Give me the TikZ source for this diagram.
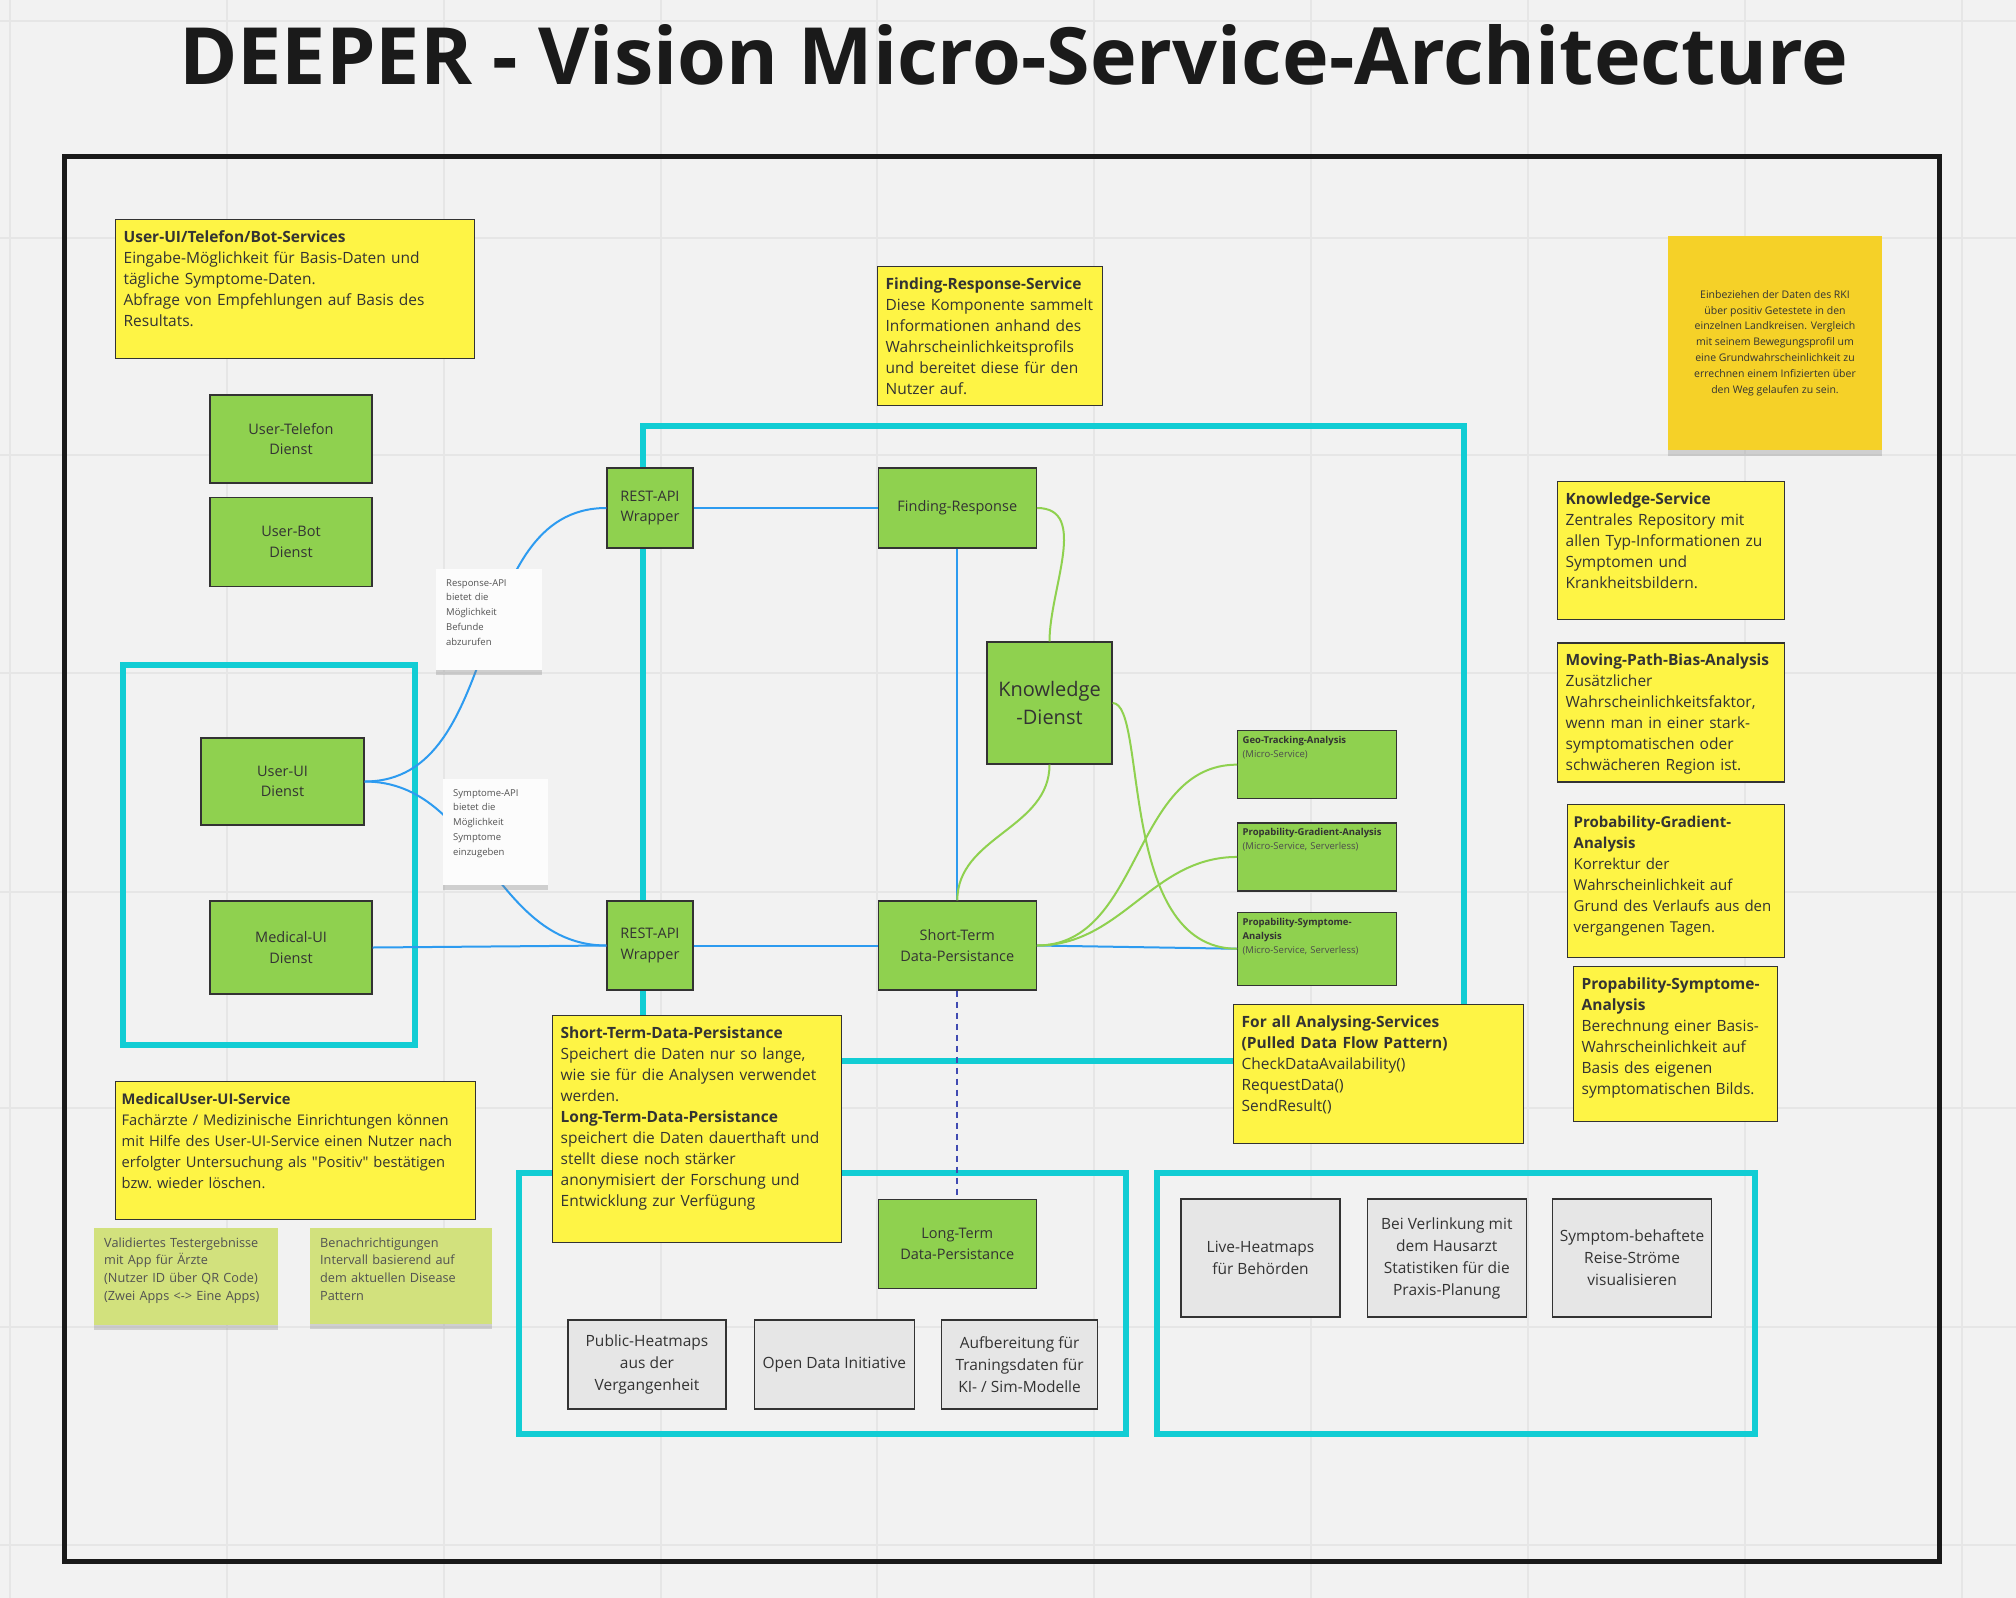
\documentclass[tikz,border=0pt]{standalone}
\usepackage{fontspec}
\setmainfont{Open Sans}
\usepackage{xcolor}
\usepackage{tikz}
\usetikzlibrary{positioning, shadows}
\definecolor{boardGray}{HTML}{F2F2F2}
\definecolor{gridGray}{HTML}{E6E6E6}
\definecolor{frameBlack}{HTML}{1A1A1A}
\definecolor{frameCyan}{HTML}{12CDD4}
\definecolor{infoYellow}{HTML}{FEF445}
\definecolor{dienstGreen}{HTML}{8FD14F}
\definecolor{outputGray}{HTML}{E6E6E6}
\definecolor{stickyOrange}{HTML}{F5D128}
\definecolor{stickyLime}{HTML}{D2E17D}
\definecolor{noteWhite}{HTML}{FCFCFC}
\definecolor{linkBlue}{HTML}{2D9BF0}
\definecolor{linkNavy}{HTML}{414BB2}
\definecolor{inkDark}{HTML}{333333}
\newcommand{\fsz}[2]{\fontsize{#1}{#2}\selectfont}

\begin{document}
\begin{tikzpicture}[
    x=1pt, y=-1pt,
    node distance=20pt,
    dienst/.style={draw=inkDark, line width=1.3pt, fill=dienstGreen, align=center, text=inkDark, font=\fsz{14.5}{20.5}, inner sep=0pt},
    ausgabe/.style={draw=inkDark, line width=1.3pt, fill=outputGray, align=center, text=inkDark, font=\fsz{15.5}{22}, inner sep=0pt},
    info/.style 2 args={draw=inkDark, line width=1.3pt, fill=infoYellow, anchor=north west, align=left, text=inkDark, font=\fsz{15.5}{21}, inner xsep=8pt, inner ysep=8pt, text height=14.5pt, text width=#1, text depth=#2},
    analyse/.style={draw=inkDark, line width=1.3pt, fill=dienstGreen, anchor=north west, align=left, text=inkDark, font=\fsz{9.5}{14}, inner xsep=5pt, inner ysep=4pt, text height=9pt, text width=149pt, text depth=#1},
    notiz/.style 2 args={fill=noteWhite, anchor=north west, align=left, text=inkDark!85, font=\fsz{9.5}{14.7}, inner xsep=10pt, inner ysep=8pt, text height=9pt, text width=#1, text depth=#2, drop shadow={shadow xshift=0pt, shadow yshift=-5pt, opacity=.3}},
    rahmen/.style={draw=frameCyan, line width=6pt},
    bluelink/.style={draw=linkBlue, line width=2pt},
    greenlink/.style={draw=dienstGreen, line width=2pt},
]
    \useasboundingbox (0,0) rectangle (2016,1598);
    \fill[boardGray] (0,0) rectangle (2016,1598);
    \foreach \gy in {21,238,455,673,892,1108,1327,1545}
        \draw[gridGray, line width=1.5pt] (0,\gy) -- (2016,\gy);
    \foreach \gx in {10,227,444,661,877,1094,1311,1528,1745,1962}
        \draw[gridGray, line width=1.5pt] (\gx,0) -- (\gx,1598);

    \node[font=\fsz{79}{92}\bfseries, text=frameBlack, anchor=base] (titel) at (1014,84) {DEEPER - Vision Micro-Service-Architecture};

    \draw[frameBlack, line width=5pt] (64,156) rectangle (1939,1561);
    \draw[rahmen] (123,665) rectangle (415,1045);
    \draw[rahmen] (643,426) rectangle (1464,1061);
    \draw[rahmen] (519,1173) rectangle (1126,1434);
    \draw[rahmen] (1157,1173) rectangle (1755,1434);

    \node[info={343pt}{108.5pt}] (userinfo) at (115,219) {\textbf{User-UI/Telefon/Bot-Services}\\Eingabe-Möglichkeit für Basis-Daten und\\tägliche Symptome-Daten.\\Abfrage von Empfehlungen auf Basis des\\Resultats.};
    \node[info={209pt}{108.5pt}] (findinginfo) at (877,266) {\textbf{Finding-Response-Service}\\Diese Komponente sammelt\\Informationen anhand des\\Wahrscheinlichkeitsprofils\\und bereitet diese für den\\Nutzer auf.};
    \node[info={211pt}{107.5pt}] (knowinfo) at (1557,481) {\textbf{Knowledge-Service}\\Zentrales Repository mit\\allen Typ-Informationen zu\\Symptomen und\\Krankheitsbildern.};
    \node[info={211pt}{108.5pt}, below=22pt of knowinfo] (movinginfo) {\textbf{Moving-Path-Bias-Analysis}\\Zusätzlicher\\Wahrscheinlichkeitsfaktor,\\wenn man in einer stark-\\symptomatischen oder\\schwächeren Region ist.};
    \node[info={205pt}{122.5pt}, inner xsep=6pt, font=\fsz{15}{21}] (gradinfo) at (1567,804) {\textbf{Probability-Gradient-}\\\textbf{Analysis}\\Korrektur der\\Wahrscheinlichkeit auf\\Grund des Verlaufs aus den\\vergangenen Tagen.};
    \node[info={188pt}{124.5pt}] (sympinfo) at (1573,966) {\textbf{Propability-Symptome-}\\\textbf{Analysis}\\Berechnung einer Basis-\\Wahrscheinlichkeit auf\\Basis des eigenen\\symptomatischen Bilds.};
    \node[info={273pt}{196.5pt}] (persistinfo) at (552,1015) {\textbf{Short-Term-Data-Persistance}\\Speichert die Daten nur so lange,\\wie sie für die Analysen verwendet\\werden.\\\textbf{Long-Term-Data-Persistance}\\speichert die Daten dauerthaft und\\stellt diese noch stärker\\anonymisiert der Forschung und\\Entwicklung zur Verfügung};
    \node[info={274pt}{108.5pt}] (analyseinfo) at (1233,1004) {\textbf{For all Analysing-Services}\\\textbf{(Pulled Data Flow Pattern)}\\CheckDataAvailability()\\RequestData()\\SendResult()};
    \node[info={348pt}{107.5pt}, inner xsep=6pt, font=\fsz{14.7}{21}] (medicalinfo) at (115,1081) {\textbf{MedicalUser-UI-Service}\\Fachärzte / Medizinische Einrichtungen können\\mit Hilfe des User-UI-Service einen Nutzer nach\\erfolgter Untersuchung als \textquotedbl Positiv\textquotedbl{} bestätigen\\bzw.\ wieder löschen.};

    \node[dienst, minimum width=162pt, minimum height=88pt] (tel) at (291,439) {User-Telefon\\Dienst};
    \node[dienst, minimum width=162pt, minimum height=89pt, below=13pt of tel] (bot) {User-Bot\\Dienst};
    \node[dienst, minimum width=163pt, minimum height=87pt] (ui) at (282.5,781.5) {User-UI\\Dienst};
    \node[dienst, minimum width=162pt, minimum height=93pt] (medui) at (291,947.5) {Medical-UI\\Dienst};
    \node[dienst, minimum width=86pt, minimum height=80pt] (restA) at (650,508) {REST-API\\Wrapper};
    \node[dienst, minimum width=158pt, minimum height=80pt, right=184pt of restA] (finding) {Finding-Response};
    \node[dienst, minimum width=125pt, minimum height=122pt, font=\fsz{20}{28}] (know) at (1049.5,703) {Knowledge\\-Dienst};
    \node[dienst, minimum width=86pt, minimum height=89pt] (restB) at (650,945.5) {REST-API\\Wrapper};
    \node[dienst, minimum width=158pt, minimum height=89pt, right=184pt of restB] (short) {Short-Term\\Data-Persistance};
    \node[dienst, minimum width=158pt, minimum height=89pt, below=208pt of short] (long) {Long-Term\\Data-Persistance};

    \node[analyse=51pt] (geo) at (1237,730) {\textbf{Geo-Tracking-Analysis}\\{\color{black!70}(Micro-Service)}};
    \node[analyse=51pt, below=23pt of geo] (grad) {\textbf{Propability-Gradient-Analysis}\\{\color{black!70}(Micro-Service, Serverless)}};
    \node[analyse=56pt, below=20pt of grad] (symp) {\textbf{Propability-Symptome-}\\\textbf{Analysis}\\{\color{black!70}(Micro-Service, Serverless)}};

    \node[ausgabe, minimum width=158pt, minimum height=89pt] (pubheat) at (647,1364.5) {Public-Heatmaps\\aus der\\Vergangenheit};
    \node[ausgabe, minimum width=160pt, minimum height=89pt, right=27pt of pubheat] (opendata) {Open Data Initiative};
    \node[ausgabe, minimum width=156pt, minimum height=89pt, right=26pt of opendata] (training) {Aufbereitung für\\Traningsdaten für\\KI- / Sim-Modelle};
    \node[ausgabe, minimum width=159pt, minimum height=118pt] (liveheat) at (1260.5,1258) {Live-Heatmaps\\für Behörden};
    \node[ausgabe, minimum width=159pt, minimum height=118pt, right=26pt of liveheat] (praxis) {Bei Verlinkung mit\\dem Hausarzt\\Statistiken für die\\Praxis-Planung};
    \node[ausgabe, minimum width=159pt, minimum height=118pt, right=25pt of praxis] (stroeme) {Symptom-behaftete\\Reise-Ströme\\visualisieren};

    \draw[bluelink] (ui.east) to[out=0, in=180] (restA.west);
    \draw[bluelink] (ui.east) to[out=0, in=180] (restB.west);
    \draw[bluelink] (medui.east) -- (restB.west);
    \draw[bluelink] (restA) -- (finding);
    \draw[bluelink] (restB) -- (short);
    \draw[bluelink] (finding) -- (short);
    \draw[bluelink] (short.east) -- (symp.west);
    \draw[linkNavy, line width=2pt, dash pattern=on 6pt off 5pt] (short) -- (long);
    \draw[greenlink] (finding.east) to[out=0, in=90] (know.north);
    \draw[greenlink] (know.south) to[out=-90, in=90] (short.north);
    \draw[greenlink] (know.east) .. controls +(35,0) and +(-120,0) .. (symp.west);
    \draw[greenlink] (short.east) to[out=0, in=180] (geo.west);
    \draw[greenlink] (short.east) to[out=0, in=180] (grad.west);

    \node[notiz={86pt}{76pt}] (respnote) at (436,569) {Response-API\\bietet die\\Möglichkeit\\Befunde\\abzurufen};
    \node[notiz={85pt}{81pt}] (sympnote) at (443,779) {Symptome-API\\bietet die\\Möglichkeit\\Symptome\\einzugeben};
    \node[notiz={164pt}{70pt}, fill=stickyLime, font=\fsz{12.7}{17.7}, text height=11pt] (validnote) at (94,1228) {Validiertes Testergebnisse\\mit App für Ärzte\\(Nutzer ID über QR Code)\\(Zwei Apps <-> Eine Apps)};
    \node[notiz={162pt}{69pt}, fill=stickyLime, font=\fsz{12.7}{17.7}, text height=11pt] (benachnote) at (310,1228) {Benachrichtigungen\\Intervall basierend auf\\dem aktuellen Disease\\Pattern};
    \node[fill=stickyOrange, minimum width=214pt, minimum height=214pt, align=center, text=inkDark, font=\fsz{10.5}{15.8}, drop shadow={shadow xshift=0pt, shadow yshift=-6pt, opacity=.3}] (rki) at (1775,343) {Einbeziehen der Daten des RKI\\über positiv Getestete in den\\einzelnen Landkreisen. Vergleich\\mit seinem Bewegungsprofil um\\eine Grundwahrscheinlichkeit zu\\errechnen einem Infizierten über\\den Weg gelaufen zu sein.};
\end{tikzpicture}
\end{document}
